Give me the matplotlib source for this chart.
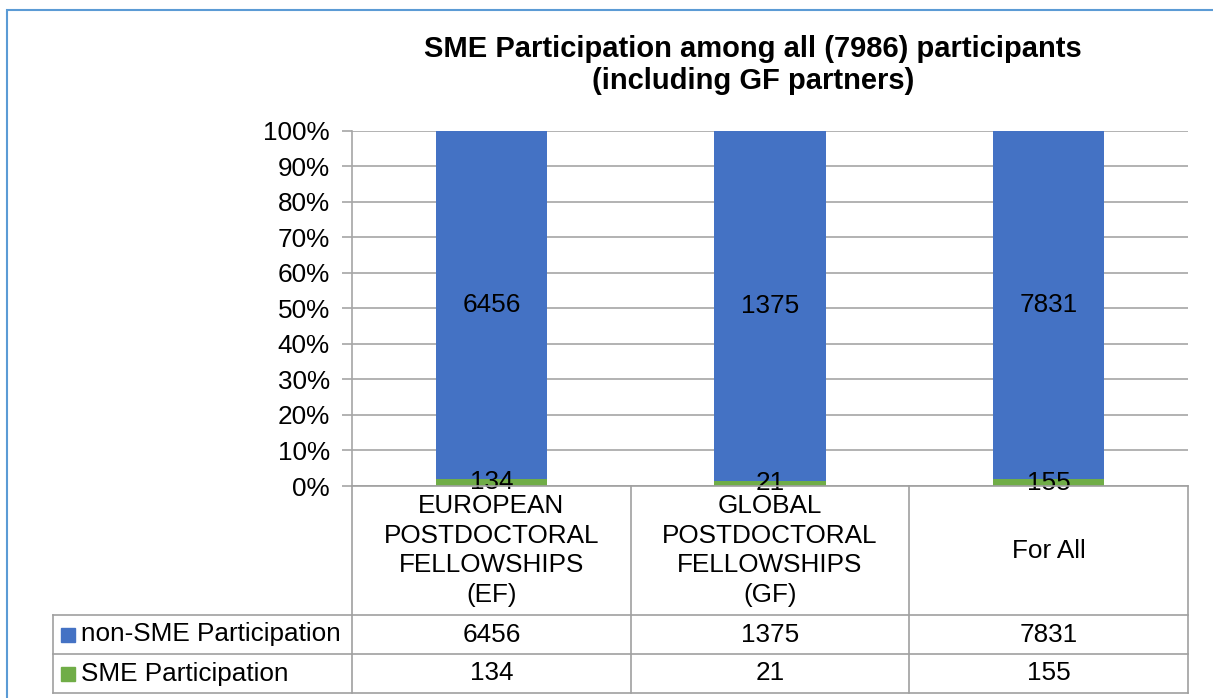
import matplotlib
matplotlib.use("Agg")
import matplotlib.pyplot as plt
from matplotlib.lines import Line2D
from matplotlib.patches import Rectangle

plt.rcParams['font.family'] = ['Liberation Sans', 'DejaVu Sans']

# data
categories = ['EUROPEAN\nPOSTDOCTORAL\nFELLOWSHIPS\n(EF)',
              'GLOBAL\nPOSTDOCTORAL\nFELLOWSHIPS\n(GF)',
              'For All']
non_sme = [6456, 1375, 7831]
sme = [134, 21, 155]
series_names = ['non-SME Participation', 'SME Participation']
title = 'SME Participation among all (7986) participants\n(including GF partners)'

blue = '#4472C4'
green = '#70AD47'
grid_col = '#A6A6A6'
fs = 18.8

W, H = 1213, 698
fig = plt.figure(figsize=(W / 100, H / 100), dpi=100)


def fx(px):
    return px / W


def fy(py):
    return 1 - py / H


# outer frame (runs off right and bottom edges)
fig.add_artist(Rectangle((fx(7), fy(H + 10)), fx(W + 20), fy(10) - fy(H + 10),
                         fill=False, edgecolor='#5B9BD5', lw=1.5,
                         transform=fig.transFigure))

left, right, top, bottom = 352, 1188, 130.5, 486
ax = fig.add_axes([fx(left), fy(bottom), fx(right) - fx(left), fy(top) - fy(bottom)])

totals = [a + b for a, b in zip(non_sme, sme)]
sme_pct = [b / t * 100 for b, t in zip(sme, totals)]
non_pct = [a / t * 100 for a, t in zip(non_sme, totals)]
x = list(range(len(categories)))

ax.bar(x, sme_pct, width=0.4, color=green, zorder=3)
ax.bar(x, non_pct, width=0.4, bottom=sme_pct, color=blue, zorder=3)

for i in x:
    ax.text(i, sme_pct[i] + non_pct[i] / 2, str(non_sme[i]), ha='center', va='center',
            fontsize=fs, zorder=4)
    ax.text(i, sme_pct[i] / 2, str(sme[i]), ha='center', va='center',
            fontsize=fs, zorder=4)

ax.set_xlim(-0.5, 2.5)
ax.set_ylim(0, 100)
ax.set_yticks(range(0, 101, 10))
ax.set_yticklabels([f'{v}%' for v in range(0, 101, 10)], fontsize=fs)
ax.yaxis.grid(True, color=grid_col, lw=1.2)
ax.set_axisbelow(True)
ax.set_xticks([])
for s in ['top', 'right', 'bottom']:
    ax.spines[s].set_visible(False)
ax.spines['left'].set_color(grid_col)
ax.spines['left'].set_linewidth(1.2)
ax.tick_params(axis='y', length=7, width=1.2, color=grid_col, pad=9)

fig.text(fx(753), fy(65), title, ha='center', va='center', fontsize=21,
         fontweight='bold', linespacing=1.22)

# data table below the axes
tab_left = 52.5
row_y = [486, 615, 654, 693]
col_x = [left + (right - left) * k / 3 for k in range(4)]
lc = '#A0A0A0'


def hline(y, x0, x1):
    fig.add_artist(Line2D([fx(x0), fx(x1)], [fy(y), fy(y)], color=lc, lw=1.2,
                          transform=fig.transFigure))


def vline(xp, y0, y1):
    fig.add_artist(Line2D([fx(xp), fx(xp)], [fy(y0), fy(y1)], color=lc, lw=1.2,
                          transform=fig.transFigure))


hline(row_y[0], left, right)
for y in row_y[1:]:
    hline(y, tab_left, right)
for xp in col_x:
    vline(xp, row_y[0], row_y[3])
vline(tab_left, row_y[1], row_y[3])

for i, c in enumerate(categories):
    cx = (col_x[i] + col_x[i + 1]) / 2
    fig.text(fx(cx), fy((row_y[0] + row_y[1]) / 2), c, ha='center', va='center',
             fontsize=fs, linespacing=1.31)
    fig.text(fx(cx), fy((row_y[1] + row_y[2]) / 2), str(non_sme[i]), ha='center',
             va='center', fontsize=fs)
    fig.text(fx(cx), fy((row_y[2] + row_y[3]) / 2), str(sme[i]), ha='center',
             va='center', fontsize=fs)

for r, (name, col) in enumerate(zip(series_names, [blue, green])):
    yc = (row_y[r + 1] + row_y[r + 2]) / 2
    fig.add_artist(Rectangle((fx(61), fy(yc + 7)), fx(14), fy(yc - 7) - fy(yc + 7),
                             color=col, transform=fig.transFigure))
    fig.text(fx(81), fy(yc), name, ha='left', va='center', fontsize=fs)

fig.savefig('out.png', dpi=100)
